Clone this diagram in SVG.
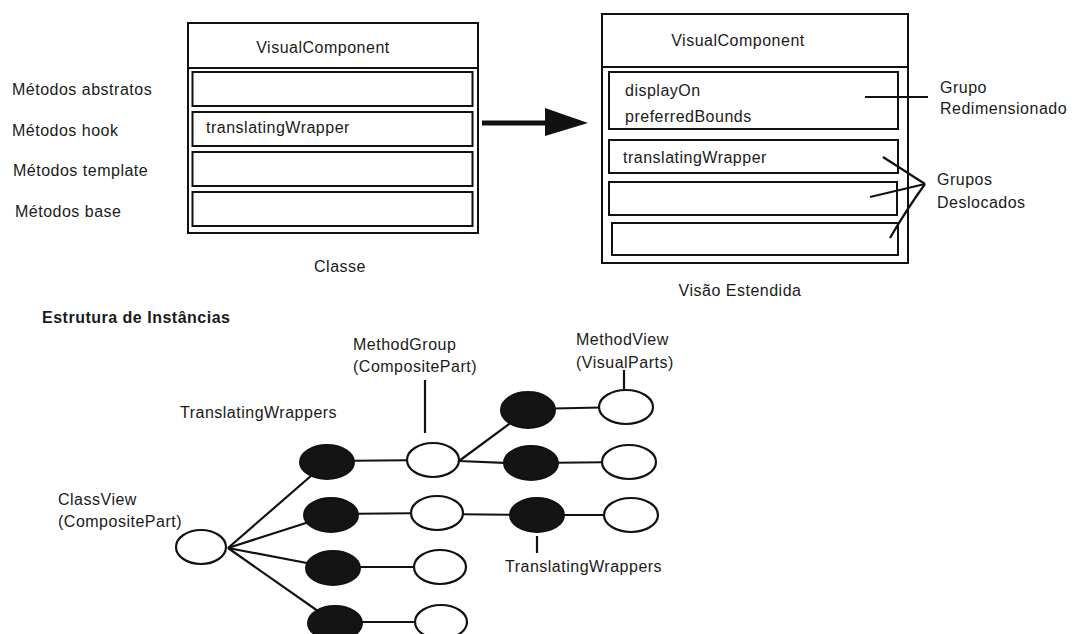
<svg xmlns="http://www.w3.org/2000/svg" width="1075" height="634" viewBox="0 0 1075 634">
<style>
text{font-family:"Liberation Sans",Arial,sans-serif;font-size:16px;letter-spacing:0.5px;fill:#1a1a1a}
.b{font-weight:bold}
.m{text-anchor:middle}
.box{fill:#fff;stroke:#111;stroke-width:2}
.ln{stroke:#111;stroke-width:2.2;fill:none}
.blk{fill:#141414;stroke:#111;stroke-width:2}
.wht{fill:#fff;stroke:#111;stroke-width:2.2}
</style>
<rect width="1075" height="634" fill="#fff"/>

<g id="classe">
<rect class="box" x="188" y="23" width="290" height="210"/>
<line class="ln" x1="188" y1="68" x2="478" y2="68" stroke-width="3"/>
<text class="m" x="323" y="53">VisualComponent</text>
<rect class="box" x="192.5" y="72" width="280" height="34"/>
<rect class="box" x="192.5" y="112" width="280" height="34"/>
<rect class="box" x="192.5" y="152" width="280" height="34"/>
<rect class="box" x="192.5" y="192" width="280" height="34"/>
<text x="206" y="133">translatingWrapper</text>
<text class="m" x="340" y="272">Classe</text>
</g>

<g id="labels-metodos">
<text x="12" y="95">Métodos abstratos</text>
<text x="12" y="136">Métodos hook</text>
<text x="13" y="176">Métodos template</text>
<text x="15" y="217">Métodos base</text>
</g>

<g id="visao-estendida">
<rect class="box" x="602" y="14" width="306" height="249"/>
<line class="ln" x1="602" y1="67" x2="908" y2="67" stroke-width="3"/>
<text class="m" x="738" y="46">VisualComponent</text>
<rect class="box" x="609" y="72" width="289" height="57"/>
<rect class="box" x="609" y="140" width="289" height="33"/>
<rect class="box" x="609" y="182" width="288" height="33"/>
<rect class="box" x="612" y="223" width="286" height="32"/>
<text x="625" y="96">displayOn</text>
<text x="625" y="122">preferredBounds</text>
<text x="623" y="163">translatingWrapper</text>
<text class="m" x="740" y="296">Visão Estendida</text>
</g>

<g id="grupo-redimensionado">
<text x="940" y="93">Grupo</text>
<text x="940" y="114">Redimensionado</text>
</g>
<g id="grupos-deslocados">
<text x="937" y="185">Grupos</text>
<text x="937" y="208">Deslocados</text>
</g>

<g id="titulo">
<text class="b" x="42" y="323">Estrutura de Instâncias</text>
</g>

<g id="connectors">
<line x1="482" y1="123" x2="550" y2="123" stroke="#111" stroke-width="5"/>
<polygon points="545,108 588,123 545,136" fill="#111"/>
<line class="ln" x1="865" y1="97" x2="928" y2="97"/>
<line class="ln" x1="883" y1="157" x2="925" y2="184"/>
<line class="ln" x1="870" y1="197" x2="925" y2="184"/>
<path class="ln" d="M890,238 Q905,212 925,184"/>
<line class="ln" x1="228" y1="548" x2="327" y2="462"/>
<line class="ln" x1="228" y1="548" x2="331" y2="515"/>
<line class="ln" x1="228" y1="548" x2="333" y2="568"/>
<line class="ln" x1="228" y1="548" x2="335" y2="623"/>
<line class="ln" x1="327" y1="461" x2="433" y2="460"/>
<line class="ln" x1="331" y1="514" x2="437" y2="513"/>
<line class="ln" x1="333" y1="567" x2="440" y2="567"/>
<line class="ln" x1="335" y1="622" x2="441" y2="622"/>
<line class="ln" x1="459" y1="461" x2="528" y2="410"/>
<line class="ln" x1="459" y1="461" x2="531" y2="464"/>
<line class="ln" x1="437" y1="514" x2="537" y2="515"/>
<line class="ln" x1="528" y1="409" x2="626" y2="407"/>
<line class="ln" x1="531" y1="463" x2="629" y2="462"/>
<line class="ln" x1="537" y1="515" x2="631" y2="515"/>
<line class="ln" x1="425" y1="380" x2="425" y2="433"/>
<line class="ln" x1="624" y1="370" x2="624" y2="389"/>
<line class="ln" x1="537" y1="536" x2="537" y2="553"/>
</g>

<g id="classview">
<ellipse class="wht" cx="201" cy="547" rx="25" ry="17"/>
<text x="58" y="505">ClassView</text>
<text x="58" y="527">(CompositePart)</text>
</g>
<g id="tw-label-1"><text x="180" y="418">TranslatingWrappers</text></g>
<g id="tw1"><ellipse class="blk" cx="327" cy="462" rx="27" ry="17"/></g>
<g id="tw2"><ellipse class="blk" cx="331" cy="515" rx="27" ry="17"/></g>
<g id="tw3"><ellipse class="blk" cx="333" cy="568" rx="27" ry="17"/></g>
<g id="tw4"><ellipse class="blk" cx="335" cy="623" rx="27" ry="17"/></g>
<g id="mg1">
<ellipse class="wht" cx="433" cy="460" rx="26" ry="17"/>
<text x="353" y="350">MethodGroup</text>
<text x="353" y="372">(CompositePart)</text>
</g>
<g id="mg2"><ellipse class="wht" cx="437" cy="513" rx="26" ry="17"/></g>
<g id="mg3"><ellipse class="wht" cx="440" cy="567" rx="26" ry="17"/></g>
<g id="mg4"><ellipse class="wht" cx="441" cy="622" rx="26" ry="17"/></g>
<g id="tw5"><ellipse class="blk" cx="528" cy="410" rx="27" ry="18"/></g>
<g id="tw6"><ellipse class="blk" cx="531" cy="463" rx="27" ry="17"/></g>
<g id="tw7">
<ellipse class="blk" cx="537" cy="515" rx="27" ry="17"/>
<text x="505" y="572">TranslatingWrappers</text>
</g>
<g id="mv1">
<ellipse class="wht" cx="626" cy="407" rx="27" ry="17"/>
<text x="576" y="345">MethodView</text>
<text x="576" y="368">(VisualParts)</text>
</g>
<g id="mv2"><ellipse class="wht" cx="629" cy="462" rx="27" ry="17"/></g>
<g id="mv3"><ellipse class="wht" cx="631" cy="515" rx="27" ry="17"/></g>
</svg>
